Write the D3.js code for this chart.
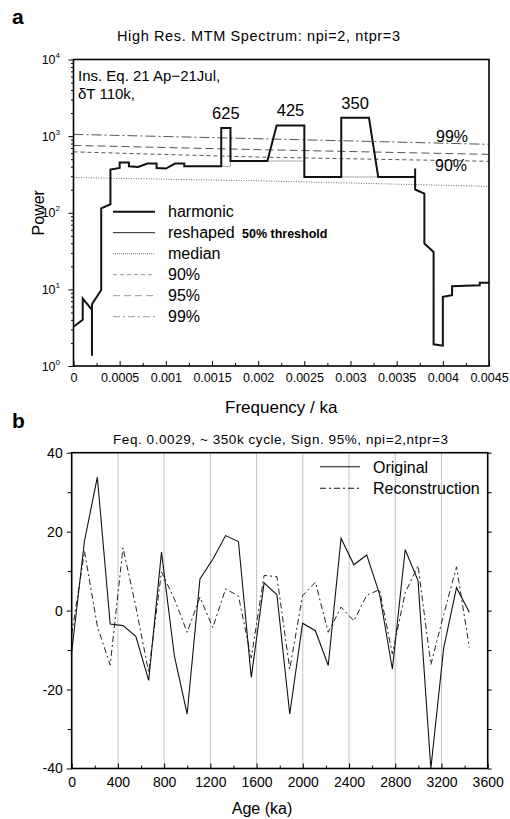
<!DOCTYPE html>
<html><head><meta charset="utf-8">
<script src="https://cdn.jsdelivr.net/npm/d3@7"></script>
<style>
body{margin:0;background:#fff}
svg{display:block}
text{font-family:"Liberation Sans",Arial,Helvetica,sans-serif;fill:#000}
</style>
</head><body>
<svg id="c" width="510" height="819"></svg>
<script>
// ---------- Panel a data (MTM spectrum) ----------
const harmonicFreq = [0,0.0001,0.0001,0.0002,0.0002,0.0002,0.0003,0.0003,0.0004,0.0004,0.0005,0.0005,0.0006,0.0006,0.0007,0.0008,0.0009,0.0009,0.001,0.0011,0.0012,0.0012,0.0016,0.0016,0.0017,0.0017,0.0021,0.0022,0.0025,0.0025,0.0029,0.0029,0.0032,0.0033,0.0037,0.0037,0.0037,0.0038,0.0038,0.0039,0.0039,0.004,0.004,0.0041,0.0041,0.0044,0.0044,0.0045];
const harmonicPower = [3.25,4.0,7.6,5.4,1.36,6.4,9.8,114,129,366,384,451,451,403,395,438,438,384,377,438,438,403,403,1274,1274,473,473,1380,1380,293,293,1739,1739,293,293,377,201,178,39.7,30.8,1.92,1.84,8.0,8.4,11.0,11.3,12.2,12.2];
const reshapedFreq = [0.0003,0.0004,0.0004,0.0005,0.0005,0.0006,0.0006,0.0007,0.0008,0.0009,0.0009,0.001,0.0011,0.0012,0.0012,0.0017,0.0017,0.0025,0.0025,0.0037];
const reshapedPower = [114,129,366,384,451,451,403,395,438,438,384,377,438,438,403,403,473,473,293,293];
const confFreq = [0,0.002,0.0045];
const medianPower = [288,261,221];
const conf90 = [623,533,469];
const conf95 = [757,666,578];
const conf99 = [1054,926,781];
const peakLabels = ["625","425","350"];
const peakFreq = [0.00165,0.00235,0.00305];
const peakPower = [1274,1380,1739];
const freqTicks = [0,0.0005,0.001,0.0015,0.002,0.0025,0.003,0.0035,0.004,0.0045];
const freqTickLabels = ["0","0.0005","0.001","0.0015","0.002","0.0025","0.003","0.0035","0.004","0.0045"];
const freqMinorTicks = [0.00025,0.00075,0.00125,0.00175,0.00225,0.00275,0.00325,0.00375,0.00425];
const powerTicks = [1,10,100,1000,10000];
const powerTickExp = ["0","1","2","3","4"];
const legendA = ["harmonic","reshaped","median","90%","95%","99%"];

// ---------- Panel b data (reconstruction) ----------
const ages = [0,111,222,333,444,555,666,777,888,999,1110,1221,1332,1443,1554,1665,1776,1887,1998,2109,2220,2331,2442,2553,2664,2775,2886,2997,3108,3219,3330,3441];
const original = [-10.5,17.7,33.8,-3.4,-3.8,-6.5,-17.7,14.8,-11.4,-26.2,8.0,13.0,19.0,17.5,-16.9,7.0,4.0,-26.2,-3.2,-5.1,-13.9,18.3,11.6,14.1,4.2,-14.8,15.4,7.6,-40,-9.5,5.8,-0.4];
const reconstruction = [-6,15,-4,-13.8,15.9,1,-15.6,9.8,3,-5.5,3.4,-4.3,5.5,3.7,-12,8.9,8.6,-14.8,3.8,7.2,-5.5,0.9,-2.6,3.9,5.3,-11,4.5,11.4,-13.7,-1,11.1,-9.3];
const ageTicks = [0,400,800,1200,1600,2000,2400,2800,3200,3600];
const ageMinorTicks = [200,600,1000,1400,1800,2200,2600,3000,3400];
const gridAges = [400,800,1200,1600,2000,2400,2800,3200];
const valueTicks = [-40,-20,0,20,40];
const valueTickLabels = ["-40","-20","0","20","40"];
const valueMinorTicks = [-30,-10,10,30];
const legendB = ["Original","Reconstruction"];

const svg = d3.select("#c");

// ================= Panel a =================
const ax = d3.scaleLinear().domain([0,0.0045]).range([73.5,489]);
const ay = d3.scaleLog().domain([1,10000]).range([366,59.5]);

svg.append("text").attr("x",12).attr("y",24).attr("font-size",21).attr("font-weight","bold").text("a");
svg.append("text").attr("x",117).attr("y",40.5).attr("font-size",14.5)
  .attr("textLength",283).attr("lengthAdjust","spacing")
  .text("High Res. MTM Spectrum:  npi=2, ntpr=3");

svg.append("clipPath").attr("id","clipA").append("rect")
  .attr("x",ax(0)).attr("y",ay(10000)).attr("width",ax(0.0045)-ax(0)).attr("height",ay(1)-ay(10000));
const gA = svg.append("g").attr("clip-path","url(#clipA)");

const lineA = d3.line().x(d=>ax(d[0])).y(d=>ay(d[1]));

const confSeries = [
  {vals:medianPower, dash:"1,1.5", color:"#444", w:0.8},
  {vals:conf90, dash:"4,3", color:"#555", w:1},
  {vals:conf95, dash:"8,4", color:"#555", w:1},
  {vals:conf99, dash:"10,3,2,3", color:"#555", w:1}
];
confSeries.forEach(s=>{
  gA.append("path").datum(d3.zip(confFreq,s.vals)).attr("d",lineA)
    .attr("fill","none").attr("stroke",s.color).attr("stroke-width",s.w).attr("stroke-dasharray",s.dash);
});
gA.append("path").datum(d3.zip(reshapedFreq,reshapedPower)).attr("d",lineA)
  .attr("fill","none").attr("stroke","#aaa").attr("stroke-width",1);
gA.append("path").datum(d3.zip(harmonicFreq,harmonicPower)).attr("d",lineA)
  .attr("fill","none").attr("stroke","#111").attr("stroke-width",2).attr("stroke-linejoin","miter");

// frame
svg.append("rect").attr("x",ax(0)).attr("y",ay(10000)).attr("width",ax(0.0045)-ax(0)).attr("height",ay(1)-ay(10000))
  .attr("fill","none").attr("stroke","#000").attr("stroke-width",1.6);

// x axis
const xAxisA = svg.append("g").attr("transform",`translate(0,${ay(1)})`)
  .call(d3.axisBottom(ax).tickValues(freqTicks).tickSize(-5).tickPadding(7).tickFormat((d,i)=>freqTickLabels[i]));
xAxisA.select(".domain").remove();
xAxisA.selectAll("text").attr("font-size",12.5).attr("font-family",null);
const xMinorA = svg.append("g").attr("transform",`translate(0,${ay(1)})`)
  .call(d3.axisBottom(ax).tickValues(freqMinorTicks).tickSize(-3).tickFormat(""));
xMinorA.select(".domain").remove();

// y axis (log)
const minorPow = [];
[1,10,100,1000].forEach(b=>{for(let k=2;k<=9;k++) minorPow.push(b*k);});
const yAxisA = svg.append("g").attr("transform",`translate(${ax(0)},0)`)
  .call(d3.axisLeft(ay).tickValues(powerTicks).tickSize(5).tickFormat(""));
yAxisA.select(".domain").remove();
const yMinorA = svg.append("g").attr("transform",`translate(${ax(0)},0)`)
  .call(d3.axisLeft(ay).tickValues(minorPow).tickSize(2.5).tickFormat(""));
yMinorA.select(".domain").remove();
powerTicks.forEach((p,i)=>{
  const t = svg.append("text").attr("x",60).attr("y",ay(p)+4.5).attr("text-anchor","end").attr("font-size",12.5);
  t.append("tspan").text("10");
  t.append("tspan").attr("font-size",8).attr("dy",-6).text(powerTickExp[i]);
});

svg.append("text").attr("transform",`translate(44,${(ay(1)+ay(10000))/2}) rotate(-90)`)
  .attr("text-anchor","middle").attr("font-size",16).text("Power");
svg.append("text").attr("x",(ax(0)+ax(0.0045))/2).attr("y",413).attr("text-anchor","middle")
  .attr("font-size",17).text("Frequency / ka");

// annotations
svg.append("text").attr("x",78).attr("y",81).attr("font-size",15).text("Ins. Eq. 21 Ap\u221221Jul,");
svg.append("text").attr("x",78).attr("y",99).attr("font-size",15).text("\u03b4T 110k,");
const peakDy = [-9,-9,-9];
peakLabels.forEach((l,i)=>{
  svg.append("text").attr("x",ax(peakFreq[i])).attr("y",ay(peakPower[i])+peakDy[i])
    .attr("text-anchor","middle").attr("font-size",16.5).text(l);
});
svg.append("text").attr("x",436).attr("y",142).attr("font-size",16).text("99%");
svg.append("text").attr("x",435).attr("y",171).attr("font-size",16).text("90%");

// legend a
const legStyles = [
  {dash:null, w:2, color:"#111"},
  {dash:null, w:1, color:"#222"},
  {dash:"1,1", w:0.8, color:"#555"},
  {dash:"4,3", w:1, color:"#999"},
  {dash:"7,4", w:1, color:"#999"},
  {dash:"7,3,2,3", w:1, color:"#999"}
];
legendA.forEach((l,i)=>{
  const y = 211.7 + i*21;
  svg.append("line").attr("x1",113).attr("x2",155).attr("y1",y).attr("y2",y)
    .attr("stroke",legStyles[i].color).attr("stroke-width",legStyles[i].w)
    .attr("stroke-dasharray",legStyles[i].dash);
  svg.append("text").attr("x",168).attr("y",y+5.5).attr("font-size",16).text(l);
});
svg.append("text").attr("x",242).attr("y",237.5).attr("font-size",12.5).attr("font-weight","bold")
  .attr("font-family","'Liberation Sans Narrow','Liberation Sans',Arial,sans-serif").text("50% threshold");

// ================= Panel b =================
const bx = d3.scaleLinear().domain([0,3600]).range([71.7,487.7]);
const by = d3.scaleLinear().domain([-40,40]).range([768.5,452.7]);

svg.append("text").attr("x",12).attr("y",428).attr("font-size",21).attr("font-weight","bold").text("b");
svg.append("text").attr("x",113).attr("y",444).attr("font-size",13.5)
  .attr("textLength",335).attr("lengthAdjust","spacing")
  .text("Feq. 0.0029, ~ 350k cycle, Sign. 95%,  npi=2,ntpr=3");

// grid
svg.append("g").selectAll("line").data(gridAges).join("line")
  .attr("x1",d=>bx(d)).attr("x2",d=>bx(d)).attr("y1",by(40)).attr("y2",by(-40))
  .attr("stroke","#888").attr("stroke-width",1).attr("stroke-dasharray","1,1");

svg.append("clipPath").attr("id","clipB").append("rect")
  .attr("x",bx(0)).attr("y",by(40)).attr("width",bx(3600)-bx(0)).attr("height",by(-40)-by(40));
const gB = svg.append("g").attr("clip-path","url(#clipB)");
const lineB = d3.line().x(d=>bx(d[0])).y(d=>by(d[1]));
gB.append("path").datum(d3.zip(ages,reconstruction)).attr("d",lineB)
  .attr("fill","none").attr("stroke","#222").attr("stroke-width",1).attr("stroke-dasharray","6,3,2,3");
gB.append("path").datum(d3.zip(ages,original)).attr("d",lineB)
  .attr("fill","none").attr("stroke","#111").attr("stroke-width",1.1);

svg.append("rect").attr("x",bx(0)).attr("y",by(40)).attr("width",bx(3600)-bx(0)).attr("height",by(-40)-by(40))
  .attr("fill","none").attr("stroke","#000").attr("stroke-width",1.6);

const xAxisB = svg.append("g").attr("transform",`translate(0,${by(-40)})`)
  .call(d3.axisBottom(bx).tickValues(ageTicks).tickSize(-5).tickPadding(9).tickFormat(d=>String(d)));
xAxisB.select(".domain").remove();
xAxisB.selectAll("text").attr("font-size",14).attr("font-family",null);
const xMinorB = svg.append("g").attr("transform",`translate(0,${by(-40)})`)
  .call(d3.axisBottom(bx).tickValues(ageMinorTicks).tickSize(-3).tickFormat(""));
xMinorB.select(".domain").remove();

const yAxisB = svg.append("g").attr("transform",`translate(${bx(0)},0)`)
  .call(d3.axisLeft(by).tickValues(valueTicks).tickSize(5).tickPadding(4).tickFormat((d,i)=>valueTickLabels[i]));
yAxisB.select(".domain").remove();
yAxisB.selectAll("text").attr("font-size",14).attr("font-family",null);
const yMinorB = svg.append("g").attr("transform",`translate(${bx(0)},0)`)
  .call(d3.axisLeft(by).tickValues(valueMinorTicks).tickSize(4).tickFormat(""));
yMinorB.select(".domain").remove();
const yRightB = svg.append("g").attr("transform",`translate(${bx(3600)},0)`)
  .call(d3.axisRight(by).tickValues(valueTicks.concat(valueMinorTicks)).tickSize(4).tickFormat(""));
yRightB.select(".domain").remove();

svg.append("text").attr("x",262).attr("y",814).attr("text-anchor","middle").attr("font-size",16).text("Age (ka)");

// legend b
const legB = [{dash:null},{dash:"6,3,2,3"}];
legendB.forEach((l,i)=>{
  const y = 466.7 + i*21.6;
  svg.append("line").attr("x1",320).attr("x2",360).attr("y1",y).attr("y2",y)
    .attr("stroke","#111").attr("stroke-width",1.1).attr("stroke-dasharray",legB[i].dash);
  svg.append("text").attr("x",373).attr("y",y+6).attr("font-size",16).text(l);
});
</script>
</body></html>
